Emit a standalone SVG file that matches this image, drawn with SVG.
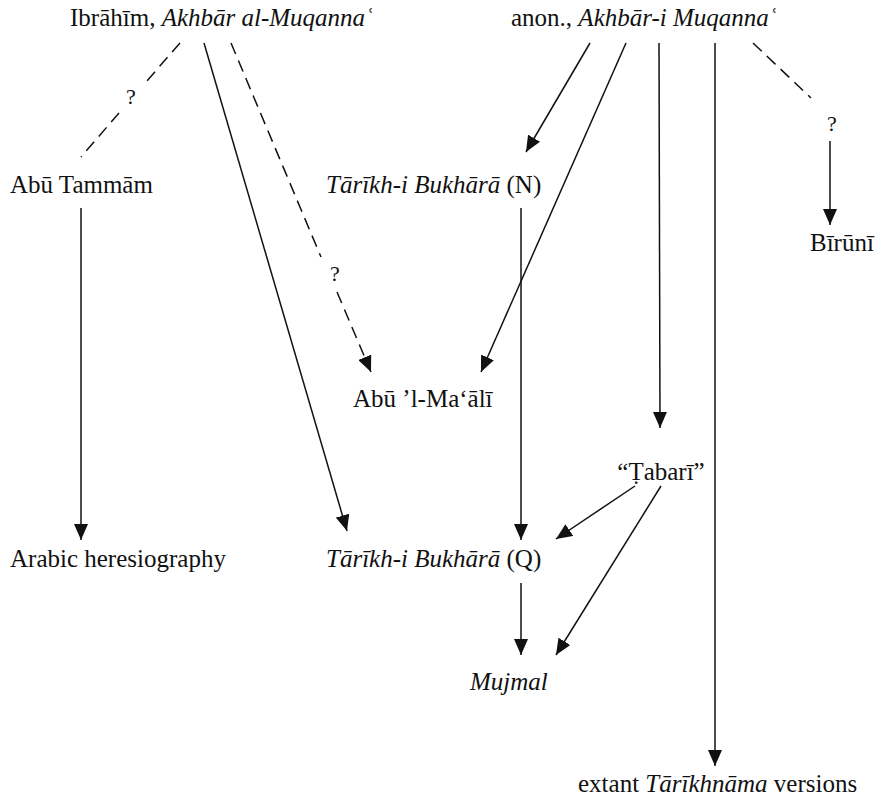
<svg xmlns="http://www.w3.org/2000/svg" width="880" height="800" viewBox="0 0 880 800">
<style>
text{font-family:"Liberation Serif","Times New Roman",serif;font-size:25px;fill:#111}
.i{font-style:italic}
.q{font-size:22px}
.c line{stroke:#111;stroke-width:1.5;fill:none}
.d{stroke-dasharray:12 7}
.a{marker-end:url(#ah)}
</style>
<defs>
<marker id="ah" viewBox="0 0 16 14" refX="16" refY="7" markerWidth="16" markerHeight="14" markerUnits="userSpaceOnUse" orient="auto">
<path d="M0,0 L16,7 L0,14 z" fill="#111"/>
</marker>
</defs>
<rect width="880" height="800" fill="#fff"/>
<g class="c" id="connectors">
<line class="d" x1="180" y1="43" x2="146" y2="82"/>
<line class="d" x1="119" y1="113" x2="81" y2="157"/>
<line class="a" x1="204" y1="43" x2="347" y2="531"/>
<line class="d" x1="231" y1="43" x2="321" y2="257"/>
<line class="d a" x1="337" y1="292" x2="371" y2="372"/>
<line class="a" x1="590" y1="43" x2="526" y2="152"/>
<line class="a" x1="626" y1="43" x2="481" y2="372"/>
<line class="a" x1="659" y1="43" x2="660" y2="428"/>
<line class="a" x1="715" y1="43" x2="715" y2="766"/>
<line class="d" x1="753" y1="43" x2="811" y2="98"/>
<line class="a" x1="830" y1="141" x2="830" y2="225"/>
<line class="a" x1="81" y1="208" x2="81" y2="540"/>
<line class="a" x1="521" y1="208" x2="521" y2="540"/>
<line class="a" x1="635" y1="486" x2="556" y2="539"/>
<line class="a" x1="661" y1="486" x2="556" y2="655"/>
<line class="a" x1="521" y1="583" x2="521" y2="655"/>
</g>
<g id="q1"><text class="q" x="131" y="104" text-anchor="middle">?</text></g>
<g id="q2"><text class="q" x="335" y="281" text-anchor="middle">?</text></g>
<g id="q3"><text class="q" x="832" y="131" text-anchor="middle">?</text></g>
<g id="ibrahim"><text x="70" y="26">Ibrāhīm, <tspan class="i">Akhbār al-Muqannaʿ</tspan></text></g>
<g id="anon"><text x="511" y="26">anon., <tspan class="i">Akhbār-i Muqannaʿ</tspan></text></g>
<g id="abutammam"><text x="10" y="193">Abū Tammām</text></g>
<g id="tbn"><text x="326" y="193"><tspan class="i">Tārīkh-i Bukhārā</tspan> (N)</text></g>
<g id="biruni"><text x="810" y="251">Bīrūnī</text></g>
<g id="abulmaali"><text x="353" y="407">Abū ’l-Ma‘ālī</text></g>
<g id="tabari"><text x="661" y="480" text-anchor="middle">“Ṭabarī”</text></g>
<g id="arabic"><text x="10" y="567">Arabic heresiography</text></g>
<g id="tbq"><text x="326" y="567"><tspan class="i">Tārīkh-i Bukhārā</tspan> (Q)</text></g>
<g id="mujmal"><text class="i" x="470" y="690">Mujmal</text></g>
<g id="extant"><text x="578" y="792">extant <tspan class="i">Tārīkhnāma</tspan> versions</text></g>
</svg>
